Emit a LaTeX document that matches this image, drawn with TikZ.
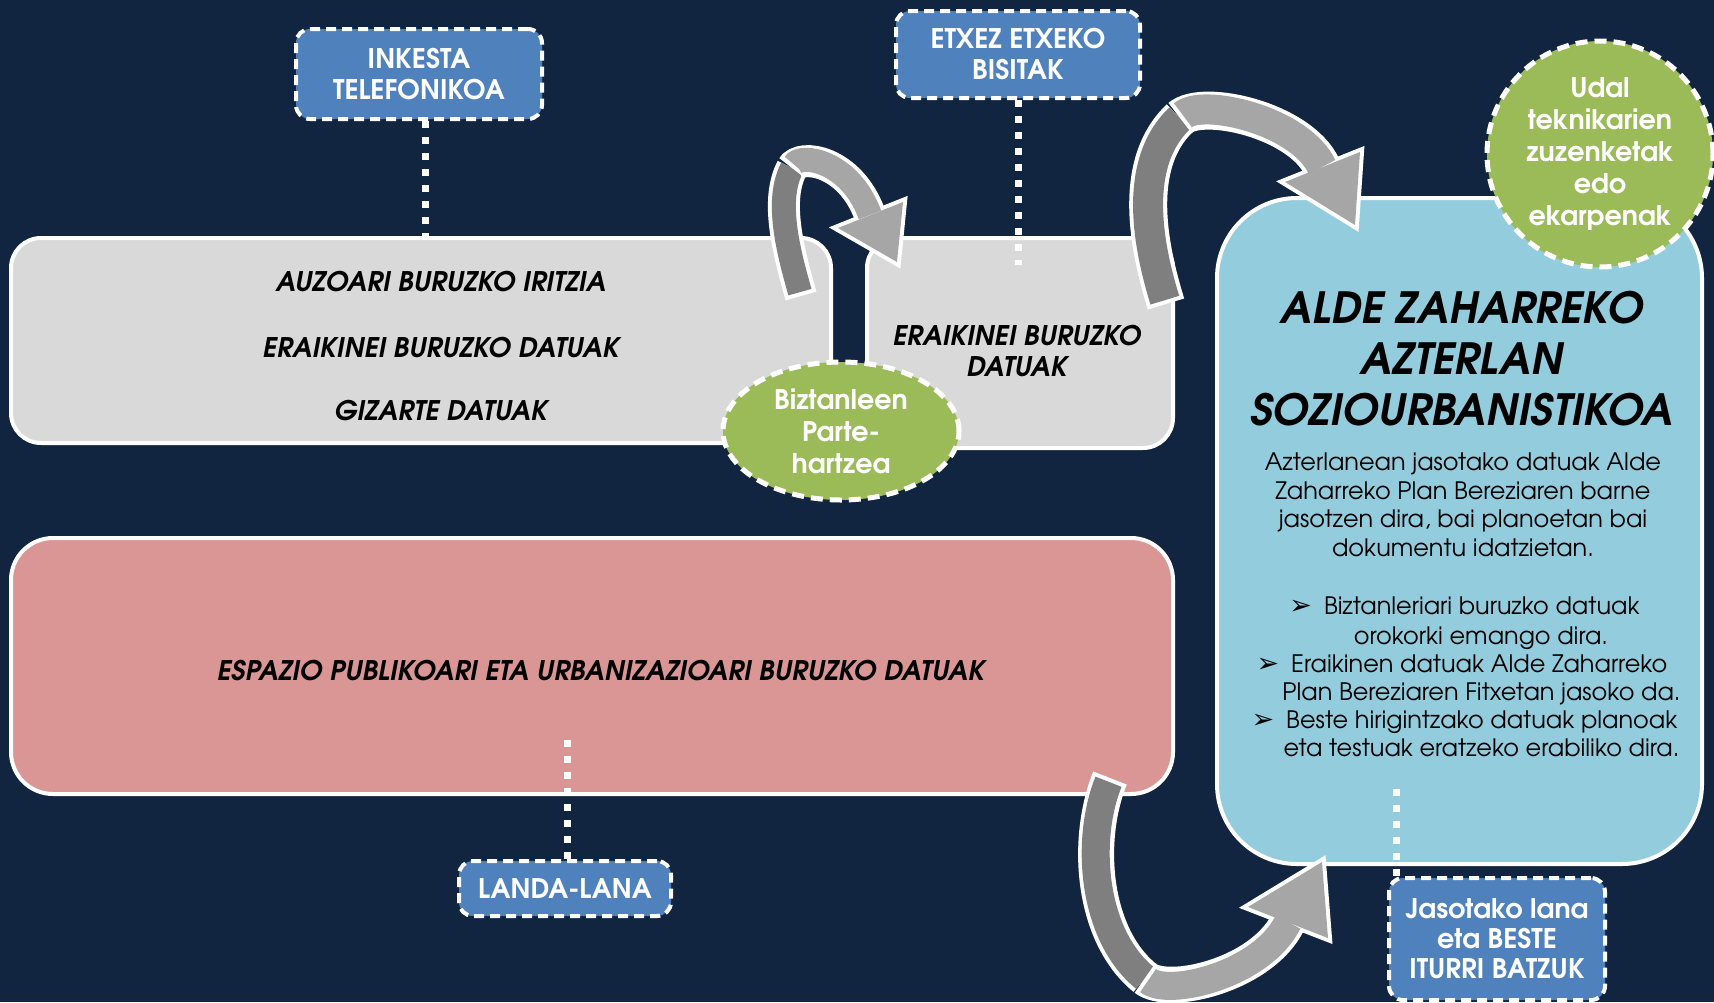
\documentclass[tikz,border=0pt]{standalone}
\usepackage{fontspec}
\usetikzlibrary{shapes.geometric}
\setmainfont{TeX Gyre Adventor}
\newfontfamily\symfont{DejaVu Sans}
\definecolor{bg}{RGB}{17,36,64}
\definecolor{boxgray}{RGB}{217,217,217}
\definecolor{boxred}{RGB}{217,150,148}
\definecolor{boxblue}{RGB}{147,205,221}
\definecolor{tagblue}{RGB}{79,129,189}
\definecolor{taggreen}{RGB}{155,187,89}
\definecolor{arrdark}{RGB}{127,127,127}
\definecolor{arrlight}{RGB}{166,166,166}
\newcommand{\bul}{{\symfont\fontsize{27}{27}\selectfont ➢}\hspace{12pt}}
\tikzset{
  panel/.style={draw=white, line width=4pt, inner sep=0pt},
  tag/.style={draw=white, line width=4pt, dash pattern=on 10pt off 6pt, fill=tagblue,
    rounded corners=14pt, text=white, align=center, inner sep=0pt,
    font=\fontsize{27}{31}\selectfont\bfseries},
  blob/.style={draw=white, line width=5pt, dash pattern=on 12pt off 7pt, fill=taggreen,
    text=white, align=center, inner sep=0pt, font=\fontsize{27}{32}\selectfont\bfseries},
  dotline/.style={white, line width=7pt, dash pattern=on 7pt off 9pt},
  bitxt/.style={font=\fontsize{27}{31}\selectfont\bfseries\itshape, align=center, text=black},
  bodytxt/.style={font=\fontsize{24}{28.5}\selectfont, align=center, text=black,
    text height=18pt, text depth=5pt, inner sep=0pt},
  bandout/.style={white, line width=#1},
  band/.style={line width=#1, shorten <=4pt},
}
\begin{document}
\begin{tikzpicture}[x=1pt,y=-1pt]
\useasboundingbox (0,0) rectangle (1714,1002);
\fill[bg] (0,0) rectangle (1714,1002);

% panels
\node[panel, fill=boxgray, rounded corners=30pt, minimum width=820pt, minimum height=205pt] (box1) at (421,340.5) {};
\node[panel, fill=boxgray, rounded corners=30pt, minimum width=306pt, minimum height=210pt] (box2) at (1020,343) {};
\node[panel, fill=boxred, rounded corners=42pt, minimum width=1162pt, minimum height=256pt] (red) at (592,666) {};
\node[panel, fill=boxblue, rounded corners=80pt, minimum width=485pt, minimum height=666pt] (blue) at (1459.5,531) {};

% panel texts
\node[bitxt] (t1) at (441,282) {AUZOARI BURUZKO IRITZIA};
\node[bitxt] (t2) at (441,348) {ERAIKINEI BURUZKO DATUAK};
\node[bitxt] (t3) at (441,411) {GIZARTE DATUAK};
\node[bitxt] (t4) at (1017,351.5) {ERAIKINEI BURUZKO\\DATUAK};
\node[bitxt] (t5) at (601,671) {ESPAZIO PUBLIKOARI ETA URBANIZAZIOARI BURUZKO DATUAK};

\node[font=\fontsize{43}{51}\selectfont\bfseries\itshape, align=center] (title) at (1462,359)
  {ALDE ZAHARREKO\\AZTERLAN\\SOZIOURBANISTIKOA};
\node[font=\fontsize{24}{28.5}\selectfont, align=center, inner sep=0pt] (para) at (1463,505)
  {Azterlanean jasotako datuak Alde\\Zaharreko Plan Bereziaren barne\\jasotzen dira, bai planoetan bai\\dokumentu idatzietan.};
\node[bodytxt] (b1) at (1464.5,608) {\bul Biztanleriari buruzko datuak};
\node[bodytxt] (b2) at (1481,638) {orokorki emango dira.};
\node[bodytxt] (b3) at (1462,666) {\bul Eraikinen datuak Alde Zaharreko};
\node[bodytxt] (b4) at (1481.5,694) {Plan Bereziaren Fitxetan jasoko da.};
\node[bodytxt] (b5) at (1464.5,722) {\bul Beste hirigintzako datuak planoak};
\node[bodytxt] (b6) at (1481.5,750) {eta testuak eratzeko erabiliko dira.};

% tags
\node[tag, minimum width=246pt, minimum height=90pt] (ink) at (419,74) {INKESTA\\TELEFONIKOA};
\node[tag, minimum width=244pt, minimum height=87pt] (etxe) at (1018,54.5) {ETXEZ ETXEKO\\BISITAK};
\node[tag, minimum width=212pt, minimum height=55pt] (landa) at (565,888.5) {LANDA-LANA};
\node[tag, minimum width=216pt, minimum height=122pt, font=\fontsize{27}{30}\selectfont\bfseries] (jas) at (1497,939) {Jasotako lana\\eta BESTE\\ITURRI BATZUK};

% dotted connectors
\coordinate (etxeEnd) at (1018,265);
\coordinate (landaEnd) at (567,739);
\coordinate (jasEnd) at (1396,789);
\draw[dotline] ([xshift=6pt]ink.south) -- ([xshift=6pt]ink.south |- box1.north);
\draw[dotline] (etxe.south) -- (etxeEnd);
\draw[dotline] (landa.north -| landaEnd) -- (landaEnd);
\draw[dotline] (jasEnd) -- (jasEnd |- jas.north);

% curved arrow 1
\draw[bandout=32pt] (801,296) .. controls (788,250) and (775,200) .. (792,168);
\draw[band=24pt, arrdark] (801,296) .. controls (788,250) and (775,200) .. (792,168);
\draw[bandout=32pt] (792,168) .. controls (800,153) and (850,160) .. (870,215);
\filldraw[white, line width=8pt, line join=miter] (838,228) -- (897,262) -- (903,202) -- cycle;
\draw[band=24pt, arrlight] (792,168) .. controls (800,153) and (850,160) .. (870,215);
\fill[arrlight] (838,228) -- (897,262) -- (903,202) -- cycle;

% curved arrow 2
\draw[bandout=38pt] (1166,304) .. controls (1150,252) and (1130,165) .. (1180,118);
\draw[band=30pt, arrdark] (1166,304) .. controls (1150,252) and (1130,165) .. (1180,118);
\draw[bandout=38pt] (1180,118) .. controls (1202,98) and (1300,120) .. (1322,167);
\filldraw[white, line width=8pt, line join=miter] (1285,182) -- (1355,225) -- (1360,152) -- cycle;
\draw[band=30pt, arrlight] (1180,118) .. controls (1202,98) and (1300,120) .. (1322,167);
\fill[arrlight] (1285,182) -- (1355,225) -- (1360,152) -- cycle;

% curved arrow 3
\draw[bandout=36pt] (1110,778) .. controls (1085,840) and (1092,935) .. (1145,978);
\draw[band=28pt, arrdark] (1110,778) .. controls (1085,840) and (1092,935) .. (1145,978);
\draw[bandout=36pt] (1145,978) .. controls (1168,997) and (1262,975) .. (1288,922);
\filldraw[white, line width=8pt, line join=miter] (1248,907) -- (1322,862) -- (1328,938) -- cycle;
\draw[band=28pt, arrlight] (1145,978) .. controls (1168,997) and (1262,975) .. (1288,922);
\fill[arrlight] (1248,907) -- (1322,862) -- (1328,938) -- cycle;

% green blobs
\node[blob, ellipse, minimum width=236pt, minimum height=138pt] (part) at (841,431) {Biztanleen\\Parte-\\hartzea};
\node[blob, circle, minimum size=226pt] (udal) at (1600,154) {Udal\\teknikarien\\zuzenketak\\edo\\ekarpenak};
\end{tikzpicture}
\end{document}
